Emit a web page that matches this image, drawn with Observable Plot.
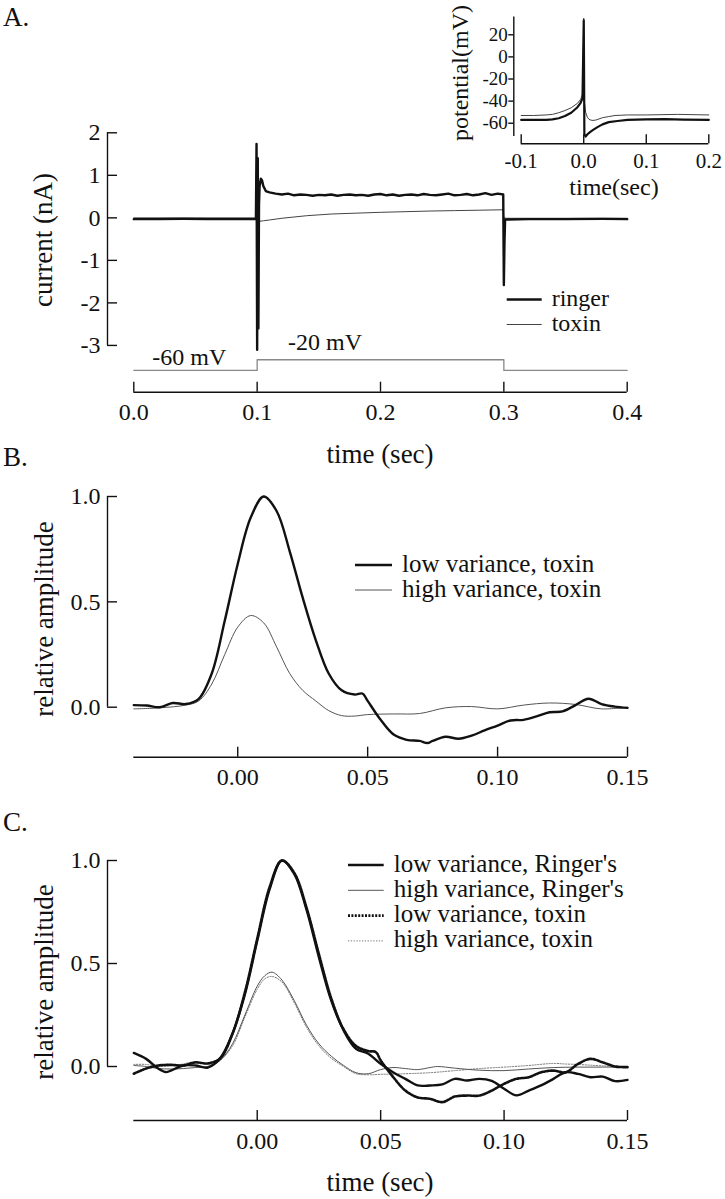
<!DOCTYPE html>
<html><head><meta charset="utf-8">
<script src="https://cdn.jsdelivr.net/npm/d3@7"></script>
<script src="https://cdn.jsdelivr.net/npm/@observablehq/plot@0.6"></script>
<style>
html,body{margin:0;padding:0;background:#fff;}
#fig{position:relative;width:725px;height:1199px;overflow:hidden;background:#fff;}
.layer{position:absolute;left:0;}
</style></head><body><div id="fig"></div>
<script>
// ---------------- DATA ----------------
// Panel A: current traces (time s, current nA)
const ringerA = [[0,-0.03],[0.02,-0.03],[0.04,-0.025],[0.06,-0.03],[0.08,-0.03],[0.099,-0.03],[0.0995,1.74],[0.1,-3.1],[0.1005,1.4],[0.101,-2.6],[0.1015,0.3],[0.102,0.75],[0.103,0.92],[0.104,0.88],[0.105,0.75],[0.107,0.63],[0.11,0.6],[0.115,0.57],[0.12,0.55],[0.125,0.57],[0.13,0.53],[0.135,0.55],[0.14,0.54],[0.145,0.52],[0.15,0.54],[0.155,0.53],[0.16,0.55],[0.165,0.52],[0.17,0.54],[0.175,0.55],[0.18,0.53],[0.185,0.54],[0.19,0.52],[0.195,0.55],[0.2,0.56],[0.205,0.53],[0.21,0.55],[0.215,0.52],[0.22,0.54],[0.225,0.55],[0.23,0.53],[0.235,0.56],[0.24,0.54],[0.245,0.53],[0.25,0.55],[0.255,0.57],[0.26,0.53],[0.265,0.54],[0.27,0.56],[0.275,0.53],[0.28,0.55],[0.285,0.58],[0.29,0.54],[0.295,0.57],[0.2995,0.55],[0.3,-1.58],[0.3005,-0.6],[0.301,-0.04],[0.32,-0.03],[0.35,-0.03],[0.38,-0.025],[0.4,-0.03]];
const toxinA = [[0,0],[0.05,0],[0.099,0],[0.1,-0.04],[0.102,-0.08],[0.105,-0.07],[0.11,-0.05],[0.12,-0.01],[0.13,0.02],[0.14,0.05],[0.15,0.07],[0.16,0.09],[0.18,0.11],[0.2,0.13],[0.22,0.145],[0.24,0.16],[0.26,0.17],[0.28,0.18],[0.2995,0.19],[0.3,0.0],[0.302,-0.01],[0.4,-0.01]];
// command voltage step (time s, mV)
const stepT = [0, 0.1, 0.1, 0.3, 0.3, 0.4];
const stepV = [-60, -60, -20, -20, -60, -60];
const stepLabels = [{t: 0.045, v: -60, label: "-60 mV"}, {t: 0.155, v: -20, label: "-20 mV"}];
const xTicksA = [0, 0.1, 0.2, 0.3, 0.4];
const yTicksA = [-3, -2, -1, 0, 1, 2];
const legendA = ["ringer", "toxin"];

// Panel A inset: potential (time s, mV)
const insetRinger = [[-0.1,-57],[-0.08,-57],[-0.06,-57],[-0.05,-56.5],[-0.04,-55.5],[-0.03,-53.5],[-0.02,-50.5],[-0.01,-45.5],[-0.005,-41.5],[-0.002,-37.5],[0,33],[0.0005,-10],[0.001,-70],[0.003,-72],[0.006,-70],[0.01,-68],[0.015,-66],[0.022,-63.5],[0.03,-61],[0.04,-59],[0.054,-58],[0.07,-57],[0.1,-56.5],[0.13,-56.3],[0.16,-56.8],[0.2,-57]];
const insetToxin = [[-0.1,-53],[-0.08,-53],[-0.06,-52.5],[-0.05,-52],[-0.04,-50.5],[-0.03,-48.5],[-0.02,-46],[-0.01,-42],[-0.005,-38.5],[-0.002,-34],[-0.001,-20],[0,35],[0.0005,10],[0.001,-40],[0.003,-50],[0.006,-55],[0.01,-57],[0.015,-57.5],[0.02,-57],[0.03,-55],[0.04,-54],[0.05,-53],[0.07,-52.5],[0.1,-52.5],[0.15,-52],[0.2,-52.5]];
const xTicksInset = [-0.1, 0, 0.1, 0.2];
const yTicksInset = [-60, -40, -20, 0, 20];
const yAxisInset = [-72, 36];

// Panel B (time s, relative amplitude)
const lowToxB = [[-0.04,0.01],[-0.035,0.008],[-0.03,0.0],[-0.025,0.02],[-0.02,0.015],[-0.015,0.04],[-0.01,0.16],[-0.005,0.41],[0,0.68],[0.005,0.9],[0.01,1.0],[0.015,0.93],[0.02,0.74],[0.025,0.52],[0.03,0.32],[0.035,0.16],[0.04,0.08],[0.045,0.06],[0.048,0.065],[0.05,0.03],[0.055,-0.06],[0.06,-0.13],[0.065,-0.155],[0.07,-0.16],[0.073,-0.17],[0.075,-0.16],[0.08,-0.14],[0.085,-0.15],[0.09,-0.135],[0.095,-0.11],[0.1,-0.087],[0.105,-0.063],[0.11,-0.06],[0.115,-0.044],[0.12,-0.024],[0.125,-0.02],[0.13,0.01],[0.135,0.04],[0.14,0.015],[0.145,0.003],[0.15,-0.003]];
const highToxB = [[-0.04,-0.008],[-0.03,-0.003],[-0.02,0.01],[-0.015,0.03],[-0.01,0.11],[-0.005,0.25],[0,0.38],[0.005,0.435],[0.01,0.4],[0.015,0.285],[0.02,0.16],[0.025,0.08],[0.03,0.03],[0.035,-0.016],[0.04,-0.04],[0.045,-0.042],[0.05,-0.035],[0.06,-0.032],[0.07,-0.03],[0.08,-0.003],[0.09,0.003],[0.1,-0.008],[0.11,0.01],[0.12,0.02],[0.13,0.013],[0.14,-0.008],[0.15,0]];
const xTicksB = [0, 0.05, 0.10, 0.15];
const yTicksB = [0, 0.5, 1.0];
const legendB = ["low variance, toxin", "high variance, toxin"];

// Panel C (time s, relative amplitude)
const lowRingC = [[-0.05,0.066],[-0.045,0.037],[-0.04,-0.011],[-0.037,-0.027],[-0.035,-0.02],[-0.03,0.005],[-0.025,0.005],[-0.02,-0.005],[-0.015,0.04],[-0.01,0.16],[-0.005,0.35],[0,0.61],[0.005,0.86],[0.01,1.0],[0.015,0.935],[0.02,0.76],[0.025,0.53],[0.03,0.32],[0.035,0.175],[0.04,0.086],[0.045,0.062],[0.05,0.013],[0.055,-0.028],[0.06,-0.06],[0.065,-0.092],[0.07,-0.092],[0.075,-0.087],[0.08,-0.06],[0.085,-0.068],[0.09,-0.06],[0.095,-0.07],[0.1,-0.108],[0.105,-0.14],[0.11,-0.117],[0.115,-0.092],[0.12,-0.06],[0.125,-0.028],[0.13,-0.036],[0.135,-0.052],[0.14,-0.049],[0.145,-0.071],[0.15,-0.065]];
const highRingC = [[-0.05,0.005],[-0.045,0.0],[-0.04,-0.01],[-0.035,-0.012],[-0.03,-0.01],[-0.025,-0.005],[-0.02,0.0],[-0.015,0.03],[-0.01,0.11],[-0.005,0.25],[0,0.39],[0.003,0.44],[0.006,0.458],[0.01,0.42],[0.015,0.32],[0.02,0.2],[0.025,0.11],[0.03,0.05],[0.035,0.005],[0.04,-0.03],[0.045,-0.035],[0.05,-0.015],[0.055,-0.005],[0.06,-0.01],[0.065,-0.015],[0.07,-0.005],[0.073,0.0],[0.08,-0.008],[0.09,-0.018],[0.1,-0.02],[0.11,-0.012],[0.12,-0.005],[0.13,-0.003],[0.14,-0.003],[0.15,-0.003]];
const lowToxC = [[-0.05,-0.035],[-0.045,-0.01],[-0.04,0.005],[-0.035,0.008],[-0.03,0.005],[-0.025,0.02],[-0.02,0.015],[-0.015,0.04],[-0.01,0.16],[-0.005,0.36],[0,0.62],[0.005,0.87],[0.01,1.0],[0.015,0.94],[0.02,0.77],[0.025,0.545],[0.03,0.33],[0.035,0.18],[0.04,0.1],[0.045,0.075],[0.048,0.07],[0.05,0.03],[0.055,-0.05],[0.06,-0.117],[0.065,-0.15],[0.07,-0.157],[0.075,-0.173],[0.08,-0.146],[0.085,-0.141],[0.09,-0.141],[0.095,-0.117],[0.1,-0.084],[0.105,-0.06],[0.11,-0.052],[0.115,-0.028],[0.12,-0.02],[0.125,-0.028],[0.13,0.013],[0.135,0.037],[0.14,0.02],[0.145,0.0],[0.15,-0.003]];
const highToxC = [[-0.05,0.01],[-0.045,0.01],[-0.04,0.0],[-0.035,0.005],[-0.03,0.012],[-0.027,0.02],[-0.022,0.015],[-0.018,0.01],[-0.015,0.03],[-0.01,0.1],[-0.005,0.24],[0,0.375],[0.003,0.425],[0.006,0.437],[0.01,0.41],[0.015,0.31],[0.02,0.19],[0.025,0.1],[0.03,0.04],[0.035,0.0],[0.04,-0.035],[0.045,-0.04],[0.05,-0.038],[0.06,-0.035],[0.07,-0.03],[0.08,-0.02],[0.09,-0.01],[0.1,-0.003],[0.11,0.005],[0.12,0.015],[0.125,0.012],[0.13,0.01],[0.14,0.003],[0.15,0.0]];
const xTicksC = [0, 0.05, 0.10, 0.15];
const yTicksC = [0, 0.5, 1.0];
const legendC = ["low variance, Ringer's", "high variance, Ringer's", "low variance, toxin", "high variance, toxin"];

// ---------------- RENDER ----------------
const FONT = "'Liberation Serif', 'DejaVu Serif', serif";
const INK = "#111";
const fig = document.getElementById("fig");
function place(node, top) {
  const d = document.createElement("div");
  d.className = "layer";
  d.style.top = top + "px";
  d.appendChild(node);
  fig.appendChild(d);
}
const baseStyle = {background: "transparent", overflow: "visible", fontFamily: FONT, fontSize: "24px", color: INK};
const X = d => d[0], Y = d => d[1];
const AX = 1.4; // axis stroke width

// Panel A main
const xDomainA = [0, 0.4];
const yDomainA = [-4.1, 2];
const vToY = v => -3.588 + (v + 60) * 0.00628; // command voltage drawn below the current traces
const stepPts = stepT.map((t, i) => [t, vToY(stepV[i])]);
place(Plot.plot({
  width: 725, height: 340, marginTop: 32.3, marginBottom: 48.3, marginLeft: 133.3, marginRight: 98.3,
  style: baseStyle,
  x: {domain: xDomainA}, y: {domain: yDomainA},
  marks: [
    Plot.ruleX([xDomainA[0]], {y1: yTicksA[0], y2: yTicksA[yTicksA.length - 1], dx: -26.3, stroke: INK, strokeWidth: AX}),
    Plot.ruleY([yDomainA[0]], {x1: xDomainA[0], x2: xDomainA[1], stroke: INK, strokeWidth: AX}),
    Plot.axisY({ticks: yTicksA, tickFormat: d => String(d), tickSize: -10, tickPadding: 17, dx: -26.3, label: null, strokeWidth: AX, fontSize: 24}),
    Plot.axisX({ticks: xTicksA, tickFormat: d => d.toFixed(1), tickSize: -10, tickPadding: 21, label: null, strokeWidth: AX, fontSize: 24}),
    Plot.line(stepPts, {x: X, y: Y, stroke: "#888", strokeWidth: 1.3}),
    Plot.text([stepLabels[0]], {x: "t", y: d => vToY(d.v), text: "label", dy: -13.5, fontSize: 24, fill: INK}),
    Plot.text([stepLabels[1]], {x: "t", y: d => vToY(d.v), text: "label", dy: -17.5, fontSize: 24, fill: INK}),
    Plot.line(toxinA, {x: X, y: Y, stroke: "#444", strokeWidth: 1}),
    Plot.line(ringerA, {x: X, y: Y, stroke: INK, strokeWidth: 2.4})
  ]
}), 100);

// Panel A inset
const xDomainI = [-0.1, 0.2];
const yDomainI = [-78.6, 35.9];
place(Plot.plot({
  width: 725, height: 200, marginTop: 16.7, marginBottom: 56.7, marginLeft: 520.7, marginRight: 16.7,
  style: baseStyle,
  x: {domain: xDomainI}, y: {domain: yDomainI},
  marks: [
    Plot.ruleX([xDomainI[0]], {y1: yAxisInset[0], y2: yAxisInset[1], dx: -7.4, stroke: INK, strokeWidth: AX}),
    Plot.ruleY([yDomainI[0]], {x1: xDomainI[0], x2: xDomainI[1], stroke: INK, strokeWidth: AX}),
    Plot.axisY({ticks: yTicksInset, tickFormat: d => String(d), tickSize: 5, tickPadding: 1, dx: -7.4, label: null, strokeWidth: AX, fontSize: 19}),
    Plot.axisX({ticks: xTicksInset, tickFormat: d => d.toFixed(1), tickSize: -9, tickPadding: 18, label: null, strokeWidth: AX, fontSize: 21}),
    Plot.line(insetToxin, {x: X, y: Y, stroke: "#444", strokeWidth: 1}),
    Plot.line(insetRinger, {x: X, y: Y, stroke: INK, strokeWidth: 2.2})
  ]
}), 0);

// Panel B
const xDomainB = [-0.04, 0.15];
const yDomainB = [-0.2373, 1.0];
place(Plot.plot({
  width: 725, height: 370, marginTop: 66, marginBottom: 43.3, marginLeft: 133.3, marginRight: 98,
  style: baseStyle,
  x: {domain: xDomainB}, y: {domain: yDomainB},
  marks: [
    Plot.ruleX([xDomainB[0]], {y1: yTicksB[0], y2: yTicksB[yTicksB.length - 1], dx: -26.3, stroke: INK, strokeWidth: AX}),
    Plot.ruleY([yDomainB[0]], {x1: xDomainB[0], x2: xDomainB[1], stroke: INK, strokeWidth: AX}),
    Plot.axisY({ticks: yTicksB, tickFormat: d => d.toFixed(1), tickSize: -10, tickPadding: 17, dx: -26.3, label: null, strokeWidth: AX, fontSize: 24}),
    Plot.axisX({ticks: xTicksB, tickFormat: d => d.toFixed(2), tickSize: -10, tickPadding: 21, label: null, strokeWidth: AX, fontSize: 24}),
    Plot.line(highToxB, {x: X, y: Y, stroke: "#555", strokeWidth: 1, curve: "catmull-rom"}),
    Plot.line(lowToxB, {x: X, y: Y, stroke: INK, strokeWidth: 2.4, curve: "catmull-rom"})
  ]
}), 430);

// Panel C
const xDomainC = [-0.05, 0.15];
const yDomainC = [-0.2621, 1.0];
place(Plot.plot({
  width: 725, height: 399, marginTop: 60, marginBottom: 79, marginLeft: 133.3, marginRight: 98,
  style: baseStyle,
  x: {domain: xDomainC}, y: {domain: yDomainC},
  marks: [
    Plot.ruleX([xDomainC[0]], {y1: yTicksC[0], y2: yTicksC[yTicksC.length - 1], dx: -26.3, stroke: INK, strokeWidth: AX}),
    Plot.ruleY([yDomainC[0]], {x1: xDomainC[0], x2: xDomainC[1], stroke: INK, strokeWidth: AX}),
    Plot.axisY({ticks: yTicksC, tickFormat: d => d.toFixed(1), tickSize: -10, tickPadding: 17, dx: -26.3, label: null, strokeWidth: AX, fontSize: 24}),
    Plot.axisX({ticks: xTicksC, tickFormat: d => d.toFixed(2), tickSize: -10, tickPadding: 21, label: null, strokeWidth: AX, fontSize: 24}),
    Plot.line(highToxC, {x: X, y: Y, stroke: "#777", strokeWidth: 1, strokeDasharray: "1.3,1.5", curve: "catmull-rom"}),
    Plot.line(highRingC, {x: X, y: Y, stroke: "#555", strokeWidth: 1, curve: "catmull-rom"}),
    Plot.line(lowToxC, {x: X, y: Y, stroke: INK, strokeWidth: 2.6, strokeDasharray: "2,1.4", curve: "catmull-rom"}),
    Plot.line(lowRingC, {x: X, y: Y, stroke: INK, strokeWidth: 2.4, curve: "catmull-rom"})
  ]
}), 800);

// ---------------- ANNOTATIONS (panel letters, axis titles, legends) ----------------
const ann = d3.create("svg").attr("width", 725).attr("height", 1199)
  .style("position", "absolute").style("left", "0px").style("top", "0px").style("overflow", "visible")
  .style("font-family", FONT).attr("fill", INK);
function txt(x, y, s, size, anchor = "start", rot = false) {
  const t = ann.append("text").attr("font-size", size).attr("text-anchor", anchor).text(s);
  if (rot) t.attr("transform", `translate(${x},${y}) rotate(-90)`);
  else t.attr("x", x).attr("y", y);
  return t;
}
txt(3, 26, "A.", 27);
txt(3, 466, "B.", 27);
txt(3, 831, "C.", 27);
txt(52, 240, "current (nA)", 27, "middle", true);
txt(380, 463, "time (sec)", 27, "middle");
txt(468, 73, "potential(mV)", 24, "middle", true);
txt(614, 195, "time(sec)", 24, "middle");
txt(53, 619, "relative amplitude", 27, "middle", true);
txt(53, 982, "relative amplitude", 27, "middle", true);
txt(380, 1191, "time (sec)", 27, "middle");

function legend(items, x1, x2, xText, yStart, step, size, styles) {
  items.forEach((name, i) => {
    const y = yStart + i * step;
    const s = styles[i];
    ann.append("line").attr("x1", x1).attr("x2", x2).attr("y1", y).attr("y2", y)
      .attr("stroke", s.stroke).attr("stroke-width", s.w).attr("stroke-dasharray", s.dash || null);
    txt(xText, y + 0.26 * size, name, size);
  });
}
legend(legendA, 506.7, 541.7, 551.7, 299.5, 25, 24, [{stroke: INK, w: 2.4}, {stroke: "#444", w: 1}]);
legend(legendB, 355, 392, 402, 565, 25, 25, [{stroke: INK, w: 2.4}, {stroke: "#555", w: 1}]);
legend(legendC, 348, 383.7, 393.7, 865, 25.3, 25, [{stroke: INK, w: 2.4}, {stroke: "#555", w: 1}, {stroke: INK, w: 2.6, dash: "2,1.4"}, {stroke: "#777", w: 1, dash: "1.3,1.5"}]);
fig.appendChild(ann.node());
</script>
</body></html>
